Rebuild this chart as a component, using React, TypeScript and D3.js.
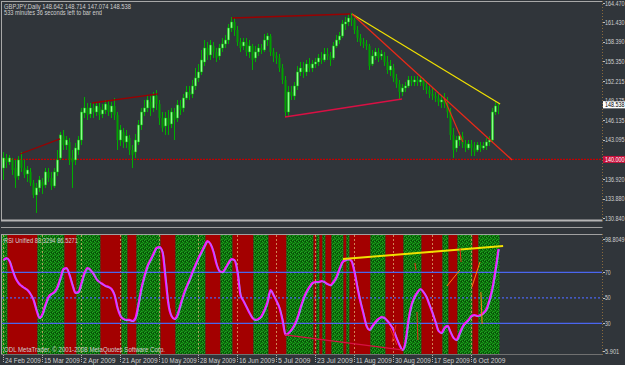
import React from "react";
import * as d3 from "d3";

const W = 625;
const H = 365;

// ---- OHLC (GBPJPY Daily), one value per bar ----
const open = [
  138.66,140.23,139.60,139.92,138.66,137.41,139.92,138.66,137.73,138.04,
  136.32,134.44,135.54,136.48,136.01,138.04,137.10,135.85,138.04,140.23,
  143.67,142.26,142.73,140.23,139.92,141.48,143.04,147.27,148.05,147.11,
  148.05,147.42,148.21,147.11,147.74,148.52,147.42,148.36,146.95,143.04,
  144.30,142.73,143.36,141.48,141.17,142.73,145.39,147.42,148.05,148.99,
  148.05,149.93,148.67,146.48,145.23,146.48,145.55,147.42,146.48,148.36,
  148.05,149.61,150.55,150.24,151.49,152.74,153.68,155.24,157.43,156.34,
  157.75,156.81,156.18,157.43,158.06,158.68,160.56,161.50,160.25,158.37,
  157.75,158.37,156.81,157.75,155.87,156.81,157.43,157.12,158.68,159.31,
  156.81,156.18,155.87,154.30,152.43,147.42,150.55,149.93,151.49,153.68,
  154.30,153.68,154.93,154.30,154.93,155.24,155.87,155.56,156.49,156.18,
  155.87,157.75,158.68,159.31,161.19,161.50,162.12,161.81,160.25,159.00,
  158.37,158.06,157.75,154.93,156.18,156.81,156.18,156.18,155.24,153.99,
  154.30,152.74,151.80,150.55,151.18,151.49,152.43,152.12,152.43,152.12,
  152.43,151.49,150.86,150.24,149.93,149.61,148.99,149.30,148.67,147.42,
  143.83,141.79,143.04,143.67,142.42,141.79,142.42,141.79,141.48,142.26,
  141.79,142.11,142.73,143.04,147.42,148.642,
];
const high = [
  141.17,140.85,140.70,140.23,139.92,140.54,141.17,139.92,138.98,138.66,
  136.79,136.32,137.41,137.10,138.66,138.66,138.04,138.66,141.48,144.30,
  144.61,143.67,143.36,141.48,142.57,143.67,148.05,149.77,148.83,148.83,
  148.99,148.99,148.83,148.67,149.30,149.30,148.99,149.61,147.42,145.39,
  144.92,144.61,143.83,142.26,143.98,146.17,148.05,149.30,149.93,149.93,
  150.55,150.86,149.30,147.42,147.42,147.74,148.05,148.05,149.30,149.30,
  150.24,151.49,151.49,152.43,154.30,154.93,157.12,158.68,158.37,158.68,
  158.37,157.43,158.06,159.00,159.47,161.19,162.28,162.12,160.87,159.00,
  159.00,159.00,158.68,158.06,157.75,158.06,158.06,159.62,159.78,159.62,
  157.43,156.81,156.49,154.93,153.05,151.49,151.49,152.12,154.62,155.24,
  155.24,155.56,155.87,155.56,155.87,156.49,156.81,157.43,157.43,156.81,
  158.37,159.47,159.94,161.81,162.28,162.75,162.91,162.12,160.87,159.62,
  159.00,158.68,158.06,157.12,157.43,157.43,157.12,156.81,156.18,155.56,
  154.93,153.37,152.43,151.80,152.12,153.05,153.05,153.05,153.05,153.05,
  152.74,152.12,151.49,151.18,150.55,150.24,150.08,150.39,149.77,148.05,
  144.92,143.67,144.30,144.30,143.04,143.04,143.04,142.73,142.73,142.73,
  142.73,143.36,143.67,148.05,148.99,148.714,
];
const low = [
  136.79,138.66,139.13,137.57,135.54,136.79,138.04,137.10,136.48,135.85,
  133.97,131.63,134.91,134.60,135.54,136.48,135.22,135.54,137.41,139.92,
  141.48,141.48,139.13,135.54,139.13,140.70,142.26,146.48,146.17,146.48,
  146.48,146.80,146.17,146.48,147.11,146.80,146.48,146.17,141.48,142.11,
  141.79,141.79,140.70,138.66,140.23,142.26,144.61,146.80,147.42,146.80,
  147.42,147.74,145.39,144.30,143.83,143.83,144.92,143.04,145.86,146.95,
  147.42,149.30,149.30,149.61,150.86,152.12,153.21,154.62,155.56,155.56,
  155.87,155.24,155.56,156.81,157.43,158.06,159.94,159.31,157.75,156.81,
  157.12,156.18,155.87,153.99,155.24,156.18,156.49,156.81,157.75,156.18,
  155.24,154.93,153.68,151.80,146.64,146.80,149.30,149.30,150.86,153.05,
  152.74,153.05,153.68,153.68,154.30,154.62,154.93,155.24,155.56,154.62,
  155.56,157.43,158.06,159.00,160.25,160.87,160.87,159.62,158.37,157.75,
  157.43,157.12,153.99,154.62,155.56,155.24,155.56,154.62,153.37,153.05,
  152.12,151.18,149.46,149.93,150.55,151.18,151.49,151.49,151.49,151.49,
  150.86,150.24,149.61,149.30,148.99,148.36,148.05,148.05,146.48,143.04,
  140.23,141.17,142.11,141.79,141.17,141.48,140.54,140.54,141.17,141.17,
  141.48,141.48,142.11,142.73,146.95,147.074,
];
const close = [
  140.23,139.60,140.23,138.35,137.10,139.92,138.66,137.57,138.35,136.32,
  134.44,135.54,136.79,135.85,138.04,137.10,135.85,138.04,139.92,143.83,
  142.26,143.04,139.92,139.60,141.79,143.04,147.42,148.05,146.95,148.05,
  147.42,148.36,146.95,147.74,148.67,147.42,148.36,146.95,143.04,144.61,
  142.73,143.67,141.48,140.70,143.04,145.39,147.42,148.05,149.30,148.05,
  149.93,148.67,146.48,144.92,146.48,145.39,147.42,146.17,148.52,147.74,
  149.61,150.55,150.08,151.49,152.74,153.68,155.56,157.43,156.34,157.90,
  156.81,155.87,157.43,158.06,158.68,160.56,161.50,160.25,158.37,157.43,
  158.37,156.81,157.75,155.56,156.81,157.43,157.12,158.68,159.31,156.81,
  156.18,155.87,154.30,152.43,147.42,150.55,149.93,151.49,153.68,154.30,
  153.68,154.93,154.30,154.93,155.24,155.87,155.56,156.49,156.18,155.56,
  157.75,158.68,159.31,161.19,161.50,162.12,161.81,160.25,159.00,158.37,
  158.06,157.75,154.62,156.18,156.81,155.87,156.49,155.24,153.99,154.62,
  152.74,151.80,150.55,151.18,151.49,152.43,152.12,152.43,152.12,152.43,
  151.49,150.86,150.24,149.93,149.61,148.99,149.30,148.67,147.42,143.83,
  141.48,143.04,143.67,142.42,141.79,142.42,141.79,141.17,142.26,141.79,
  142.11,142.73,143.04,147.42,148.36,148.538,
];

// ---- RSI Unified, one value per bar ----
const rsi = [
  79.6,81.2,78.9,71.8,65.5,61.6,59.3,57.7,56.1,53.0,
  48.3,40.4,34.2,37.3,44.4,50.6,53.0,54.5,58.5,65.5,
  72.6,73.4,67.9,60.0,53.8,54.5,61.6,69.5,73.4,71.8,
  68.7,64.7,62.4,60.8,59.3,58.5,56.9,52.2,42.0,35.7,
  33.4,32.6,32.6,31.8,34.2,45.1,57.7,67.1,74.9,79.6,
  84.4,89.1,89.8,85.9,65.5,44.4,35.7,33.4,36.5,44.4,
  52.2,58.5,64.0,70.2,75.7,81.2,85.9,90.6,94.5,92.2,
  85.9,76.5,71.0,70.2,73.4,77.3,80.4,79.6,70.2,52.2,
  47.5,42.8,38.1,34.2,32.6,33.4,35.7,40.4,46.7,56.1,
  52.2,47.5,42.0,32.6,20.9,22.4,24.8,28.7,34.2,42.0,
  49.1,54.5,58.5,61.6,62.4,62.4,63.2,62.4,60.8,60.0,
  62.4,66.3,72.6,78.1,79.6,80.4,78.9,70.2,57.7,46.7,
  37.3,27.9,24.8,27.9,31.0,33.4,34.9,34.2,31.8,28.7,
  24.8,18.5,13.0,9.1,15.4,32.6,44.4,50.6,54.5,56.9,
  54.5,50.6,44.4,38.1,31.0,24.0,22.4,26.3,27.9,23.2,
  18.5,16.9,21.6,27.1,30.3,32.6,35.7,36.5,35.7,36.5,
  38.1,41.2,48.3,57.7,71.8,88.3294,
];

// background bands of the RSI window: [firstBar, lastBar, up(1)/down(0)]
const bandStart = [0,2,12,21,25,33,40,42,45,53,58,68,73,77,84,89,95,104,105,106,107,108,110,114,115,116,123,128,134,140,147,149,152,157,159];
const bandEnd   = [1,11,20,24,32,39,41,44,52,57,67,72,76,83,88,94,103,104,105,106,107,109,113,114,115,122,127,133,139,146,148,151,156,158,165];
const bandUp    = [1,0,1,0,1,0,1,0,1,0,1,0,1,0,1,0,1,0,1,0,1,0,1,0,1,0,1,0,1,0,1,0,1,0,1];

// time axis
const dateBars = [0,13,26,39,52,65,78,91,104,117,130,143,156];
const dateLabels = ["24 Feb 2009","15 Mar 2009","2 Apr 2009","21 Apr 2009","10 May 2009","28 May 2009","16 Jun 2009","5 Jul 2009","23 Jul 2009","11 Aug 2009","30 Aug 2009","17 Sep 2009","6 Oct 2009"];

// price axis
const priceTicks = [164.47,161.43,158.39,155.35,152.215,149.175,146.135,143.095,136.92,133.88,130.84];
const priceTickLabels = ["164.470","161.430","158.390","155.350","152.215","149.175","146.135","143.095","136.920","133.880","130.840"];
const lastPrice = 148.538;
const hLinePrice = 140.0;

// RSI axis
const rsiMin = 5.901;
const rsiMax = 98.8049;
const rsiTicks = [98.8049, 70, 50, 30, 5.901];
const rsiTickLabels = ["98.8049","70","50","30","5.901"];
const rsiLevels = [70, 50, 30];

// trend lines in data units: [bar1, price1, bar2, price2]
const priceTrendLines = [
  [5.67, 140.85, 19, 143.2],
  [29.7, 148.83, 51.7, 150.24],
  [76.3, 162.12, 115.7, 162.75],
  [94, 146.64, 133, 149.46],
  [116.3, 162.75, 165.7, 148.67],
  [116.3, 162.75, 169.7, 139.92],
  [147, 149.61, 153.3, 142.73],
];
// trend lines on RSI: [bar1, rsi1, bar2, rsi2]
const rsiTrendLines = [
  [113.3, 80.4, 166.7, 90.6],
  [94, 20.9, 133, 9.1],
  [148, 59.3, 152.3, 71.8],
  [156.3, 58.5, 159, 78.1],
  [159.3, 54.5, 159.7, 29.5],
  [152.3, 89.1, 152.7, 78.1],
  [137.3, 77.3, 137.7, 71.8],
  [138, 38.9, 138.3, 16.9],
  [129, 26.3, 131.3, 13.0],
  [131, 28.7, 129.7, 15.4],
];

const priceLineStyles = [
  { c: "#9a0000", w: 1.3 },
  { c: "#9a0000", w: 1.3 },
  { c: "#9a0000", w: 1.6 },
  { c: "#d81044", w: 1.6 },
  { c: "#f0e000", w: 1.2 },
  { c: "#e82a18", w: 1.3 },
  { c: "#e82a18", w: 1.2 },
];
const rsiLineStyles = [
  { c: "#f0e000", w: 2 },
  { c: "#d81044", w: 1.4 },
  { c: "#ff7a10", w: 1 },
  { c: "#ff7a10", w: 1 },
  { c: "#ff7a10", w: 1 },
  { c: "#e82a18", w: 1 },
  { c: "#e82a18", w: 1 },
  { c: "#e82a18", w: 1 },
  { c: "#e82a18", w: 1 },
  { c: "#e82a18", w: 1 },
];

const FONT = "'Liberation Sans', Arial, sans-serif";
const TXT = "#cfcfcf";

export default function App() {
  const n = close.length;
  const x = d3.scaleLinear().domain([0, n - 1]).range([3, 3 + 3 * (n - 1)]);
  const yP = d3.scaleLinear().domain([130.84, 164.47]).range([218, 3]);
  const yR = d3.scaleLinear().domain([rsiMin, rsiMax]).range([354, 235.6]);

  const rsiPath = d3
    .line<number>()
    .x((_, i) => x(i) + 0.5)
    .y((d) => yR(d))
    .curve(d3.curveMonotoneX)(rsi) as string;

  const axisX = 602.5;
  const axW = (s: string) => Math.min(19.5, s.length * 2.85);

  return (
    <svg
      width={W}
      height={H}
      style={{ position: "absolute", left: 0, top: 0, display: "block" }}
      fontFamily={FONT}
    >
      <defs>
        <pattern id="gp" width="4" height="4" patternUnits="userSpaceOnUse">
          <rect width="4" height="4" fill="#0b6e0b" />
          <rect x="0" y="0" width="1" height="1" fill="#23a623" />
          <rect x="2" y="1" width="1" height="1" fill="#23a623" />
          <rect x="1" y="3" width="1" height="1" fill="#1f9a1f" />
          <rect x="3" y="2" width="1" height="1" fill="#1f9a1f" />
          <rect x="1" y="1" width="1" height="1" fill="#064406" />
          <rect x="3" y="0" width="1" height="1" fill="#064406" />
          <rect x="2" y="3" width="1" height="1" fill="#168a16" />
        </pattern>
        <clipPath id="mainClip">
          <rect x={2} y={2} width={600} height={217} />
        </clipPath>
        <clipPath id="rsiClip">
          <rect x={2} y={235} width={600} height={119} />
        </clipPath>
      </defs>

      <rect width={W} height={H} fill="#30353a" />

      {/* ---------- main window ---------- */}
      <g clipPath="url(#mainClip)">
        <line x1={2} x2={axisX} y1={yP(hLinePrice)} y2={yP(hLinePrice)} stroke="#c40000" strokeWidth={1.2} strokeDasharray="2,1" />

        {close.map((c, i) => {
          const o = open[i];
          const cx = Math.round(x(i));
          const up = c >= o;
          const top = yP(Math.max(o, c));
          const bh = Math.max(1, Math.abs(yP(o) - yP(c)));
          return (
            <g key={i}>
              <line x1={cx + 0.5} x2={cx + 0.5} y1={yP(high[i])} y2={yP(low[i])} stroke="#00b000" strokeWidth={1} />
              <rect
                x={cx - 0.5}
                y={top}
                width={2}
                height={bh}
                fill={up ? "#8cff8c" : "#00a000"}
                stroke={up ? "#00cc00" : "none"}
                strokeWidth={0.5}
              />
            </g>
          );
        })}

        {priceTrendLines.map((l, k) => (
          <line
            key={k}
            x1={x(l[0])}
            y1={yP(l[1])}
            x2={x(l[2])}
            y2={yP(l[3])}
            stroke={priceLineStyles[k].c}
            strokeWidth={priceLineStyles[k].w}
          />
        ))}
      </g>

      <text x={4} y={8.5} fontSize={7} fill={TXT} textLength={127} lengthAdjust="spacingAndGlyphs">
        GBPJPY,Daily  148.642 148.714 147.074 148.538
      </text>
      <text x={4} y={15.3} fontSize={7} fill={TXT} textLength={98} lengthAdjust="spacingAndGlyphs">
        533 minutes 36 seconds left to bar end
      </text>

      <line x1={2} x2={axisX} y1={1.5} y2={1.5} stroke="#a8a8a8" strokeWidth={1} />
      <line x1={1.5} x2={1.5} y1={1} y2={221} stroke="#a8a8a8" strokeWidth={1} />
      <rect x={1} y={219.5} width={axisX - 1} height={2} fill="#b4b4b4" />
      <line x1={1} x2={axisX} y1={227.5} y2={227.5} stroke="#a0a0a0" strokeWidth={1.2} />

      {/* ---------- RSI window ---------- */}
      <g clipPath="url(#rsiClip)">
        {bandStart.map((s, k) => (
          <rect
            key={k}
            x={x(s - 0.5)}
            y={235}
            width={x(bandEnd[k] + 0.5) - x(s - 0.5)}
            height={119}
            fill={bandUp[k] ? "url(#gp)" : "#a30000"}
          />
        ))}
        {dateBars.map((b, k) => (
          <line
            key={k}
            x1={x(b) + 0.5}
            x2={x(b) + 0.5}
            y1={235}
            y2={354}
            stroke="#e0b070"
            strokeOpacity={0.75}
            strokeDasharray="2,2"
          />
        ))}
        {rsiLevels.map((v, k) => (
          <line
            key={k}
            x1={2}
            x2={axisX}
            y1={yR(v)}
            y2={yR(v)}
            stroke="#4a66ee"
            strokeWidth={1.3}
            strokeDasharray={v === 50 ? "2,2" : undefined}
          />
        ))}
        <path d={rsiPath} fill="none" stroke="#ff10ff" strokeWidth={2.2} />
        <path d={rsiPath} fill="none" stroke="#70b0ff" strokeWidth={0.7} transform="translate(0.7,0.7)" />
        {rsiTrendLines.map((l, k) => (
          <line
            key={k}
            x1={x(l[0])}
            y1={yR(l[1])}
            x2={x(l[2])}
            y2={yR(l[3])}
            stroke={rsiLineStyles[k].c}
            strokeWidth={rsiLineStyles[k].w}
          />
        ))}
      </g>

      <text x={4} y={242.8} fontSize={7} fill={TXT} textLength={74} lengthAdjust="spacingAndGlyphs">
        RSI Unified 88.3294 86.5271
      </text>
      <text x={4} y={352} fontSize={7} fill={TXT} textLength={161} lengthAdjust="spacingAndGlyphs">
        ODL MetaTrader, © 2001-2008 MetaQuotes Software Corp.
      </text>

      <line x1={1} x2={axisX} y1={234.5} y2={234.5} stroke="#a0a0a0" strokeWidth={1} />
      <line x1={1.5} x2={1.5} y1={234} y2={355} stroke="#a8a8a8" strokeWidth={1} />
      <line x1={1} x2={axisX} y1={354.5} y2={354.5} stroke="#707070" strokeWidth={1} />

      {/* ---------- right axes ---------- */}
      <line x1={axisX} x2={axisX} y1={1} y2={221} stroke="#8a6a3c" strokeDasharray="1,2" />
      <line x1={axisX} x2={axisX} y1={234} y2={355} stroke="#8a6a3c" strokeDasharray="1,2" />

      {priceTicks.map((v, k) => (
        <g key={k}>
          <line x1={axisX + 0.5} x2={axisX + 2.5} y1={Math.round(yP(v)) + 0.5} y2={Math.round(yP(v)) + 0.5} stroke="#c0c0c0" />
          <text x={605} y={yP(v) + 2.6} fontSize={7} fill={TXT} textLength={axW(priceTickLabels[k])} lengthAdjust="spacingAndGlyphs">
            {priceTickLabels[k]}
          </text>
        </g>
      ))}

      <rect x={603} y={yP(lastPrice) - 3.5} width={23} height={7} fill="#ffffff" />
      <text x={605} y={yP(lastPrice) + 2.6} fontSize={7} fill="#000000" textLength={19.5} lengthAdjust="spacingAndGlyphs">
        {lastPrice.toFixed(3)}
      </text>
      <rect x={603} y={yP(hLinePrice) - 3.5} width={23} height={7} fill="#c8103c" />
      <text x={605} y={yP(hLinePrice) + 2.6} fontSize={7} fill="#ffffff" textLength={19.5} lengthAdjust="spacingAndGlyphs">
        {hLinePrice.toFixed(3)}
      </text>

      {rsiTicks.map((v, k) => {
        const yy = k === 0 ? yR(v) + 3.5 : k === rsiTicks.length - 1 ? yR(v) - 3 : yR(v);
        return (
          <g key={k}>
            <line x1={axisX + 0.5} x2={axisX + 2.5} y1={Math.round(yy) + 0.5} y2={Math.round(yy) + 0.5} stroke="#c0c0c0" />
            <text x={605} y={yy + 2.6} fontSize={7} fill={TXT} textLength={axW(rsiTickLabels[k])} lengthAdjust="spacingAndGlyphs">
              {rsiTickLabels[k]}
            </text>
          </g>
        );
      })}

      {/* ---------- time axis ---------- */}
      {dateBars.map((b, k) => (
        <g key={k}>
          <line x1={x(b) + 0.5} x2={x(b) + 0.5} y1={355} y2={363} stroke="#b0b0b0" strokeDasharray="1,1" />
          <text
            x={x(b) + 2}
            y={362.5}
            fontSize={7}
            fill={TXT}
            textLength={dateLabels[k].length * 3.25}
            lengthAdjust="spacingAndGlyphs"
          >
            {dateLabels[k]}
          </text>
        </g>
      ))}
    </svg>
  );
}
